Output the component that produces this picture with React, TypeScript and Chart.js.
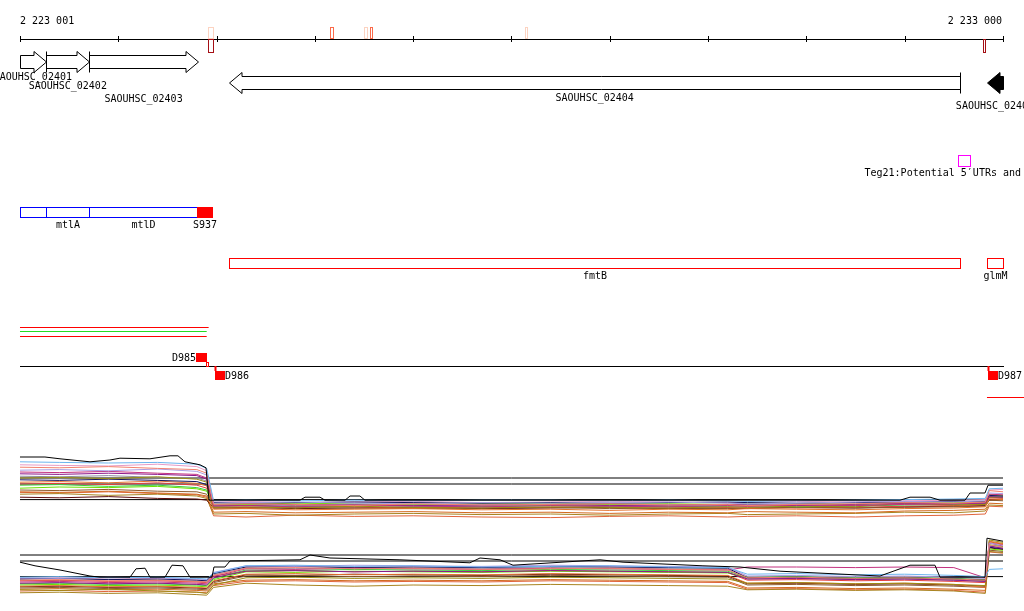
import React, { useEffect, useRef } from "react";
import { Chart, registerables } from "chart.js";
Chart.register(...registerables);

// ---------- genomic view ----------
const VIEW_START = 2223001;
const VIEW_END = 2233000;
const X_MIN = 2222797.6;
const X_MAX = 2233213.6;

// ---------- ruler ----------
const TICK_POSITIONS = [2223001, 2224000, 2225000, 2226000, 2227000, 2228000, 2229000, 2230000, 2231000, 2232000, 2233000];
const TICK_LABEL_POS = [2223001, 2233000];
const TICK_LABELS = ["2 223 001", "2 233 000"];

// ---------- marks on the ruler ----------
const MARK_START = [2224917, 2224917, 2226154, 2226500, 2226561, 2228138, 2232800];
const MARK_END = [2224968, 2224968, 2226181, 2226528, 2226581, 2228158, 2232820];
const MARK_STRAND = [1, -1, 1, 1, 1, 1, -1];
const MARK_LEVEL = [0, 2, 1, 0, 1, 0, 2];

// ---------- genes ----------
const GENE_NAMES = ["SAOUHSC_02401", "SAOUHSC_02402", "SAOUHSC_02403", "SAOUHSC_02404", "SAOUHSC_02405"];
const GENE_START = [2222650, 2223268, 2223706, 2225127, 2232837];
const GENE_END = [2223262, 2223706, 2224809, 2232566, 2233420];
const GENE_STRAND = [1, 1, 1, -1, -1];
const GENE_SELECTED = [false, false, false, false, true];

// ---------- Teg feature ----------
const TEG_START = [2232545];
const TEG_END = [2232667];
const TEG_NAMES = ["Teg21:Potential 5\u2032UTRs and"];

// ---------- operon track ----------
const OPERON_START = [2222650, 2223268, 2223706, 2224805];
const OPERON_END = [2223262, 2223706, 2224805, 2224951];
const OPERON_NAMES = ["", "mtlA", "mtlD", "S937"];
const OPERON_IS_RNA = [false, false, false, true];

// ---------- second gene track ----------
const GENE2_NAMES = ["fmtB", "glmM"];
const GENE2_START = [2225127, 2232840];
const GENE2_END = [2232566, 2233420];

// ---------- aligned segments ----------
const SEG_START = [2223001, 2223001, 2223001];
const SEG_END = [2224920, 2224900, 2224900];
const SEG_KIND = [0, 1, 0];

// ---------- TSS track ----------
const TSS_NAMES = ["D985", "D986", "D987"];
const TSS_POS = [2224903, 2224984, 2232847];
const TSS_STRAND = [1, -1, -1];
const TERM_START = [2232837];
const TERM_END = [2233420];

// ---------- expression profiles ----------
const EXPR_POS = [2223001, 2223400, 2223900, 2224400, 2224800, 2224900, 2224970, 2225300, 2225800, 2226400, 2227000, 2227700, 2228400, 2229000, 2229600, 2230200, 2230400, 2230900, 2231500, 2232000, 2232500, 2232820, 2232860, 2233000];
const REF_LEVELS = [7, 6, 3.4];

// top panel
const T1 = [9.7, 9.6, 9.5, 9.6, 9.3, 8.6, 3.2, 3.3, 3.2, 3.3, 3.2, 3.3, 3.3, 3.2, 3.3, 3.2, 3.1, 3.2, 3.3, 3.4, 3.5, 3.6, 5.2, 5.3];
const T2 = [8.8, 8.7, 8.9, 8.6, 8.4, 7.8, 2.6, 2.7, 2.6, 2.4, 2.7, 2.5, 2.6, 2.7, 2.5, 2.6, 2.4, 2.6, 2.7, 2.9, 2.8, 3.0, 4.9, 4.7];
const T3 = [8.3, 8.4, 8.2, 8.5, 8.1, 7.5, 2.8, 2.9, 3.0, 2.8, 2.7, 2.9, 2.8, 2.9, 3.0, 2.8, 2.7, 2.8, 3.0, 3.1, 3.0, 3.2, 4.5, 4.4];
const T4 = [8.0, 7.9, 8.1, 7.8, 7.6, 7.0, 2.3, 2.4, 2.2, 2.5, 2.3, 2.2, 2.4, 2.3, 2.2, 2.4, 2.3, 2.5, 2.4, 2.6, 2.7, 2.9, 4.3, 4.2];
const T5 = [7.7, 7.6, 7.8, 7.6, 7.4, 6.8, 2.5, 2.4, 2.6, 2.5, 2.4, 2.5, 2.6, 2.4, 2.5, 2.6, 2.5, 2.4, 2.6, 2.8, 2.7, 2.8, 3.9, 3.8];
const T6 = [7.0, 7.1, 6.9, 7.2, 6.8, 6.3, 2.1, 2.2, 2.0, 2.3, 2.1, 2.0, 2.2, 2.1, 2.0, 2.2, 2.1, 2.3, 2.2, 2.8, 2.5, 2.6, 3.8, 3.7];
const T7 = [6.7, 6.6, 6.8, 6.6, 6.4, 5.9, 2.9, 2.8, 2.9, 3.0, 2.9, 2.8, 2.9, 2.8, 2.9, 3.0, 2.9, 2.8, 2.9, 3.0, 3.1, 3.1, 4.1, 4.0];
const T8 = [6.3, 6.4, 6.2, 6.5, 6.1, 5.7, 1.8, 1.9, 1.7, 1.8, 1.9, 1.7, 1.8, 1.6, 1.8, 1.7, 1.9, 1.8, 1.7, 1.9, 2.0, 2.2, 3.5, 3.4];
const T9 = [5.8, 5.9, 5.6, 5.8, 5.4, 5.0, 2.3, 2.4, 2.2, 2.4, 2.3, 2.2, 2.4, 2.3, 2.2, 2.3, 2.4, 2.2, 2.3, 2.5, 2.6, 2.7, 3.9, 3.8];
const T10 = [5.3, 5.5, 5.4, 5.6, 5.2, 4.8, 2.7, 2.6, 2.8, 2.7, 2.6, 2.7, 2.8, 2.6, 2.7, 2.6, 2.8, 2.7, 2.6, 2.8, 2.9, 3.0, 4.2, 4.1];
const T11 = [5.0, 4.9, 5.1, 4.8, 4.7, 4.3, 2.0, 1.9, 2.1, 2.0, 1.9, 2.0, 2.1, 1.9, 2.0, 1.9, 2.0, 2.1, 2.0, 2.1, 2.2, 2.3, 3.3, 3.2];
const T12 = [6.0, 6.1, 5.9, 6.2, 5.8, 5.3, 2.2, 2.1, 2.3, 2.2, 2.0, 2.2, 2.1, 2.3, 2.2, 2.1, 2.2, 2.0, 2.1, 2.3, 2.4, 2.6, 3.7, 3.6];
const T13 = [4.7, 4.6, 4.8, 4.5, 4.3, 4.0, 1.3, 1.4, 1.2, 1.3, 1.4, 1.2, 1.3, 1.1, 1.3, 1.2, 1.4, 1.3, 1.2, 1.5, 1.6, 1.8, 2.8, 2.7];
const T14 = [7.3, 7.2, 7.4, 7.1, 7.0, 6.5, 2.5, 2.6, 2.4, 2.5, 2.6, 2.4, 2.5, 2.6, 2.4, 2.5, 2.6, 2.5, 2.4, 2.6, 2.7, 2.8, 3.8, 3.9];
const T15 = [3.8, 3.7, 3.9, 3.6, 3.5, 3.3, 2.0, 2.1, 1.9, 2.0, 2.1, 1.9, 2.0, 2.1, 1.9, 2.0, 1.9, 2.1, 2.0, 2.2, 2.3, 2.4, 3.3, 3.4];
const T16 = [9.2, 9.1, 9.0, 9.3, 8.9, 8.2, 3.0, 3.1, 2.9, 3.0, 3.1, 2.9, 3.0, 3.1, 3.0, 2.9, 3.0, 3.1, 3.0, 3.2, 3.3, 3.4, 5.0, 5.1];
const T17 = [4.3, 4.4, 4.1, 4.3, 4.0, 3.6, 1.0, 1.1, 0.8, 1.0, 1.1, 0.9, 1.0, 0.8, 1.0, 1.1, 0.9, 1.0, 1.1, 1.3, 1.2, 1.5, 2.5, 2.4];
const T18 = [4.6, 4.5, 4.7, 4.4, 4.2, 3.8, 0.7, 0.5, 0.8, 0.6, 0.7, 0.5, 0.4, 0.6, 0.7, 0.5, 0.6, 0.7, 0.5, 0.7, 0.8, 1.0, 2.3, 2.2];
const TOP_MAX_POS = [2223001, 2223255, 2223408, 2223713, 2223916, 2224018, 2224323, 2224527, 2224608, 2224679, 2224832, 2224893, 2224924, 2225849, 2225900, 2226053, 2226103, 2226307, 2226358, 2226459, 2226510, 2231952, 2232054, 2232258, 2232359, 2232614, 2232664, 2232817, 2232848, 2233000];
const TOP_MAX_VAL = [10.5, 10.5, 10.2, 9.7, 10.0, 10.3, 10.2, 10.7, 10.7, 9.7, 9.2, 8.7, 3.3, 3.3, 3.8, 3.8, 3.3, 3.3, 4.0, 4.0, 3.3, 3.3, 3.8, 3.8, 3.3, 3.3, 4.5, 4.5, 5.8, 5.8];

// bottom panel
const B1 = [3.3, 3.4, 3.2, 3.3, 3.1, 3.0, 4.0, 5.2, 5.3, 5.1, 5.2, 5.0, 5.1, 5.2, 5.0, 4.9, 3.8, 3.9, 3.7, 3.8, 3.6, 3.4, 4.6, 4.7];
const B2 = [2.8, 2.9, 2.7, 2.8, 2.6, 2.5, 3.6, 4.8, 4.9, 4.7, 4.8, 4.6, 4.7, 4.8, 4.6, 4.5, 3.2, 3.3, 3.1, 3.2, 3.0, 2.8, 8.7, 8.3];
const B3 = [3.2, 3.1, 3.3, 3.2, 3.0, 2.9, 4.1, 5.2, 5.1, 5.3, 5.2, 5.1, 5.3, 5.2, 5.1, 5.0, 3.5, 3.6, 3.4, 3.5, 3.3, 3.1, 9.0, 8.6];
const B4 = [2.5, 2.6, 2.4, 2.5, 2.3, 2.2, 3.4, 4.7, 4.6, 4.8, 4.7, 4.6, 4.8, 4.7, 4.6, 4.5, 5.0, 5.0, 4.9, 5.0, 4.9, 3.2, 9.0, 8.5];
const B5 = [2.3, 2.4, 2.2, 2.3, 2.1, 2.0, 3.2, 4.3, 4.4, 4.2, 4.3, 4.2, 4.4, 4.3, 4.2, 4.1, 3.0, 3.1, 2.9, 3.0, 2.8, 2.6, 8.5, 8.1];
const B6 = [1.2, 1.1, 1.3, 1.0, 0.8, 0.6, 2.0, 3.2, 3.3, 3.1, 3.2, 3.1, 3.3, 3.2, 3.1, 3.0, 2.3, 2.4, 2.2, 2.3, 2.1, 1.9, 9.5, 9.1];
const B7 = [3.0, 3.1, 2.9, 3.0, 2.8, 2.7, 3.9, 5.0, 5.1, 4.9, 5.0, 4.9, 5.1, 5.0, 4.9, 4.8, 3.2, 3.3, 3.1, 3.2, 3.0, 2.8, 8.3, 8.0];
const B8 = [1.8, 1.9, 1.7, 1.8, 1.6, 1.5, 2.7, 3.8, 3.9, 3.7, 3.8, 3.7, 3.9, 3.8, 3.7, 3.6, 2.3, 2.4, 2.2, 2.3, 2.1, 1.6, 9.3, 8.9];
const B9 = [2.2, 2.3, 2.1, 2.2, 2.0, 1.9, 3.1, 4.5, 4.4, 4.6, 4.5, 4.4, 4.6, 4.5, 4.4, 4.3, 3.3, 3.4, 3.2, 3.3, 3.1, 2.9, 8.7, 8.4];
const B10 = [2.0, 2.1, 1.9, 2.0, 1.8, 1.7, 2.9, 4.2, 4.1, 4.3, 4.2, 4.1, 4.3, 4.2, 4.1, 4.0, 3.2, 3.3, 3.1, 3.2, 3.0, 2.8, 8.0, 7.8];
const B11 = [1.5, 1.6, 1.4, 1.5, 1.3, 1.2, 2.4, 3.5, 3.6, 3.4, 3.5, 3.4, 3.6, 3.5, 3.4, 3.3, 2.0, 2.1, 1.9, 2.0, 1.8, 1.6, 7.8, 7.6];
const B12 = [2.7, 2.8, 2.6, 2.7, 2.5, 2.4, 3.5, 4.3, 4.4, 4.2, 4.3, 4.2, 4.4, 4.3, 4.2, 4.1, 2.8, 2.9, 2.7, 2.8, 2.6, 2.4, 9.0, 8.7];
const B13 = [1.3, 1.4, 1.2, 1.3, 1.1, 1.0, 2.2, 2.8, 2.9, 2.7, 2.8, 2.7, 2.9, 2.8, 2.7, 2.6, 1.5, 1.6, 1.4, 1.5, 1.3, 1.1, 9.2, 8.8];
const B14 = [2.8, 2.7, 2.9, 2.8, 2.6, 2.5, 3.7, 4.8, 4.7, 4.9, 4.8, 4.7, 4.9, 4.8, 4.7, 4.6, 3.0, 3.1, 2.9, 3.0, 2.8, 2.6, 8.5, 8.2];
const B15 = [1.7, 1.8, 1.6, 1.7, 1.5, 1.4, 2.6, 3.7, 3.6, 3.8, 3.7, 3.6, 3.8, 3.7, 3.6, 3.5, 2.2, 2.3, 2.1, 2.2, 2.0, 1.8, 8.2, 7.9];
const B16 = [3.1, 3.2, 3.0, 3.1, 2.9, 2.8, 4.0, 5.1, 5.2, 5.0, 5.1, 5.0, 5.2, 5.1, 5.0, 4.9, 3.4, 3.5, 3.3, 3.4, 3.2, 3.0, 8.3, 8.0];
const B17 = [0.7, 0.8, 0.6, 0.7, 0.4, 0.3, 1.6, 2.3, 2.0, 1.8, 2.0, 1.9, 2.1, 2.0, 1.9, 1.8, 1.2, 1.3, 1.1, 1.2, 1.0, 0.6, 7.6, 7.4];
const B18 = [1.0, 1.1, 0.9, 1.0, 0.8, 0.7, 1.9, 2.6, 2.7, 2.5, 2.6, 2.5, 2.7, 2.6, 2.5, 2.4, 1.3, 1.4, 1.2, 1.3, 1.1, 0.8, 7.5, 7.3];
const BOT_MAX_POS = [2223001, 2223154, 2223408, 2223713, 2223815, 2224120, 2224181, 2224273, 2224323, 2224476, 2224547, 2224659, 2224730, 2224954, 2224974, 2225086, 2225137, 2225849, 2225951, 2226154, 2226866, 2227578, 2227680, 2227884, 2228016, 2228901, 2229135, 2229948, 2230325, 2230732, 2231749, 2232054, 2232308, 2232359, 2232817, 2232837, 2233000];
const BOT_MAX_VAL = [5.8, 5.2, 4.5, 3.5, 3.3, 3.3, 4.7, 4.8, 3.3, 3.3, 5.3, 5.2, 3.3, 3.3, 5.0, 5.0, 6.0, 6.2, 7.0, 6.5, 6.2, 5.7, 6.5, 6.2, 5.3, 6.2, 5.8, 5.2, 5.0, 4.3, 3.5, 5.3, 5.3, 3.3, 3.3, 9.8, 9.3];

const TOP_SERIES = [T1, T2, T3, T4, T5, T6, T7, T8, T9, T10, T11, T12, T13, T14, T15, T16, T17, T18];
const BOT_SERIES = [B1, B2, B3, B4, B5, B6, B7, B8, B9, B10, B11, B12, B13, B14, B15, B16, B17, B18];

// ---------- styles ----------
const SERIES_COLORS = ["#6cb4ee", "#f2806e", "#a99ee4", "#c2307e", "#8b168b", "#9a8c12", "#14145e", "#e4722c", "#3ccc3c", "#6ee000", "#8b5a2b", "#e23c3c", "#d2691e", "#8e8e9e", "#5c0a0a", "#e69ac6", "#a88420", "#e0643c"];
const MARK_COLORS = ["#fcd3c1", "#fb6a4a", "#a50f15"];
const SEG_COLORS = ["#ff0000", "#22dd22"];
const FONT = '10px "DejaVu Sans Mono", "Liberation Mono", monospace';
const GENE_LABEL_BASELINE = [79.5, 88.5, 101.5, 100.5, 109];

const tracksPlugin = {
  id: "genomeTracks",
  afterDatasetsDraw(chart: any) {
    const ctx: CanvasRenderingContext2D = chart.ctx;
    const xs = chart.scales.x;
    const px = (g: number) => xs.getPixelForValue(g);
    const clip = (g: number) => Math.min(Math.max(g, VIEW_START), VIEW_END);
    const snap = (v: number) => Math.round(v) + 0.5;
    const line = (x0: number, y0: number, x1: number, y1: number) => {
      ctx.beginPath();
      ctx.moveTo(x0, y0);
      ctx.lineTo(x1, y1);
      ctx.stroke();
    };
    ctx.save();
    ctx.font = FONT;
    ctx.lineWidth = 1;
    ctx.textBaseline = "alphabetic";
    const L = px(VIEW_START);
    const R = px(VIEW_END);

    // ruler
    ctx.strokeStyle = "#000";
    line(Math.round(L), 39.5, Math.round(R) + 1, 39.5);
    TICK_POSITIONS.forEach((t) => {
      const x = snap(px(t));
      line(x, 36, x, 42);
    });
    ctx.fillStyle = "#000";
    ctx.textAlign = "left";
    ctx.fillText(TICK_LABELS[0], px(TICK_LABEL_POS[0]), 24);
    ctx.textAlign = "right";
    ctx.fillText(TICK_LABELS[1], px(TICK_LABEL_POS[1]) - 1, 24);

    // ruler marks
    MARK_START.forEach((s, i) => {
      const x0 = snap(px(s));
      const x1 = snap(px(MARK_END[i]));
      const w = Math.max(x1 - x0, 2);
      ctx.strokeStyle = MARK_COLORS[MARK_LEVEL[i]];
      if (MARK_STRAND[i] > 0) ctx.strokeRect(x0, 27.5, w, 11);
      else ctx.strokeRect(x0, 39.5, w, 13);
    });

    // genes
    const HEAD = 12.5;
    const BH = 6.5;
    const HH = 10.5;
    GENE_NAMES.forEach((name, i) => {
      const s = GENE_START[i];
      const e = GENE_END[i];
      const x0 = snap(px(clip(s)));
      const x1 = snap(px(clip(e)));
      const fwd = GENE_STRAND[i] > 0;
      const yc = fwd ? 62 : 83;
      ctx.strokeStyle = "#000";
      ctx.fillStyle = "#000";
      ctx.beginPath();
      if (fwd) {
        const tip = e <= VIEW_END;
        const hb = tip ? Math.max(x0, x1 - HEAD) : x1;
        ctx.moveTo(x0, yc - BH);
        ctx.lineTo(hb, yc - BH);
        if (tip) {
          ctx.lineTo(hb, yc - HH);
          ctx.lineTo(x1, yc);
          ctx.lineTo(hb, yc + HH);
        } else {
          ctx.lineTo(x1, yc - BH);
          ctx.lineTo(x1, yc + BH);
        }
        ctx.lineTo(hb, yc + BH);
        ctx.lineTo(x0, yc + BH);
      } else {
        const tip = s >= VIEW_START;
        const hb = tip ? Math.min(x1, x0 + HEAD) : x0;
        ctx.moveTo(x1, yc - BH);
        ctx.lineTo(hb, yc - BH);
        if (tip) {
          ctx.lineTo(hb, yc - HH);
          ctx.lineTo(x0, yc);
          ctx.lineTo(hb, yc + HH);
        }
        ctx.lineTo(hb, yc + BH);
        ctx.lineTo(x1, yc + BH);
      }
      ctx.closePath();
      if (GENE_SELECTED[i]) ctx.fill();
      ctx.stroke();
      // tail marker
      if (fwd && s >= VIEW_START) line(x0, yc - HH, x0, yc + HH);
      if (!fwd && e <= VIEW_END) line(x1, yc - HH, x1, yc + HH);
      ctx.textAlign = "center";
      ctx.fillText(name, (px(clip(s)) + px(clip(e))) / 2, GENE_LABEL_BASELINE[i]);
    });

    // Teg feature
    TEG_NAMES.forEach((name, i) => {
      const x0 = snap(px(TEG_START[i]));
      const x1 = snap(px(TEG_END[i]));
      ctx.strokeStyle = "#ff00ff";
      ctx.strokeRect(x0, 155.5, x1 - x0, 11);
      ctx.fillStyle = "#000";
      ctx.textAlign = "left";
      ctx.fillText(name, (x0 + x1) / 2 - 100, 176);
    });

    // operon track
    OPERON_NAMES.forEach((name, i) => {
      const x0 = snap(px(clip(OPERON_START[i])));
      const x1 = snap(px(clip(OPERON_END[i])));
      if (OPERON_IS_RNA[i]) {
        ctx.fillStyle = "#ff0000";
        ctx.fillRect(x0 - 0.5, 207, x1 - x0 + 1, 11);
      } else {
        ctx.strokeStyle = "#0000ff";
        ctx.strokeRect(x0, 207.5, x1 - x0, 10);
      }
      if (name) {
        ctx.fillStyle = "#000";
        ctx.textAlign = "center";
        ctx.fillText(name, (x0 + x1) / 2, 228);
      }
    });

    // second gene track
    GENE2_NAMES.forEach((name, i) => {
      const x0 = snap(px(clip(GENE2_START[i])));
      const x1 = snap(px(clip(GENE2_END[i])));
      ctx.strokeStyle = "#ff0000";
      ctx.strokeRect(x0, 258.5, x1 - x0, 10);
      ctx.fillStyle = "#000";
      ctx.textAlign = "center";
      ctx.fillText(name, (x0 + x1) / 2, 279);
    });

    // aligned segments
    const SEG_Y = [327.5, 331.5, 336.5];
    SEG_START.forEach((s, i) => {
      ctx.strokeStyle = SEG_COLORS[SEG_KIND[i]];
      line(px(clip(s)), SEG_Y[i], px(clip(SEG_END[i])), SEG_Y[i]);
    });

    // TSS track
    ctx.strokeStyle = "#000";
    line(Math.round(L), 366.5, Math.round(R) + 1, 366.5);
    TSS_NAMES.forEach((name, i) => {
      const x = snap(px(TSS_POS[i]));
      ctx.strokeStyle = "#ff0000";
      ctx.fillStyle = "#ff0000";
      if (TSS_STRAND[i] > 0) {
        ctx.strokeRect(x - 1, 362.5, 2, 4);
        ctx.fillRect(x - 11.5, 353, 11, 9);
        ctx.fillStyle = "#000";
        ctx.textAlign = "right";
        ctx.fillText(name, x - 11.5, 360.5);
      } else {
        ctx.fillRect(x - 1, 366, 2, 5);
        ctx.fillRect(x - 0.5, 371, 10, 9);
        ctx.fillStyle = "#000";
        ctx.textAlign = "left";
        ctx.fillText(name, x + 9.5, 378.5);
      }
    });
    TERM_START.forEach((s, i) => {
      ctx.strokeStyle = "#ff0000";
      line(px(s), 397.5, px(TERM_END[i]), 397.5);
    });

    ctx.restore();
  },
};

function App() {
  const ref = useRef<HTMLCanvasElement | null>(null);
  useEffect(() => {
    if (!ref.current) return;
    const datasets: any[] = [];
    const topMax = TOP_MAX_POS.map((x, i) => ({ x, y: TOP_MAX_VAL[i] }));
    const botMax = BOT_MAX_POS.map((x, i) => ({ x, y: BOT_MAX_VAL[i] }));
    datasets.push({ label: "top max", data: topMax, yAxisID: "y1", borderColor: "#000", order: 0 });
    datasets.push({ label: "bottom max", data: botMax, yAxisID: "y2", borderColor: "#000", order: 0 });
    TOP_SERIES.forEach((vals, k) => {
      datasets.push({
        label: "top " + (k + 1),
        data: EXPR_POS.map((x, i) => ({ x, y: vals[i] })),
        yAxisID: "y1",
        borderColor: SERIES_COLORS[k],
        order: 1,
      });
    });
    BOT_SERIES.forEach((vals, k) => {
      datasets.push({
        label: "bottom " + (k + 1),
        data: EXPR_POS.map((x, i) => ({ x, y: vals[i] })),
        yAxisID: "y2",
        borderColor: SERIES_COLORS[k],
        order: 1,
      });
    });
    REF_LEVELS.forEach((v) => {
      datasets.push({ label: "ref top", data: [{ x: VIEW_START, y: v }, { x: VIEW_END, y: v }], yAxisID: "y1", borderColor: "#000", order: 2 });
      datasets.push({ label: "ref bottom", data: [{ x: VIEW_START, y: v }, { x: VIEW_END, y: v }], yAxisID: "y2", borderColor: "#000", order: 2 });
    });
    const chart = new Chart(ref.current, {
      type: "line",
      data: { datasets },
      options: {
        animation: false,
        responsive: false,
        events: [],
        layout: { padding: 0 },
        plugins: { legend: { display: false }, tooltip: { enabled: false } },
        elements: {
          point: { radius: 0 },
          line: { borderWidth: 1, tension: 0, fill: false },
        },
        scales: {
          x: { type: "linear", min: X_MIN, max: X_MAX, display: false },
          y1: { type: "linear", min: -91 / 6, max: 520 / 6, display: false },
          y2: { type: "linear", min: -14 / 6, max: 597 / 6, display: false },
        },
      },
      plugins: [tracksPlugin],
    } as any);
    return () => chart.destroy();
  }, []);
  return (
    <div style={{ position: "fixed", left: 0, top: 0, width: 1024, height: 611, background: "#fff" }}>
      <canvas ref={ref} width={1024} height={611} style={{ display: "block" }} />
    </div>
  );
}

export default App;
